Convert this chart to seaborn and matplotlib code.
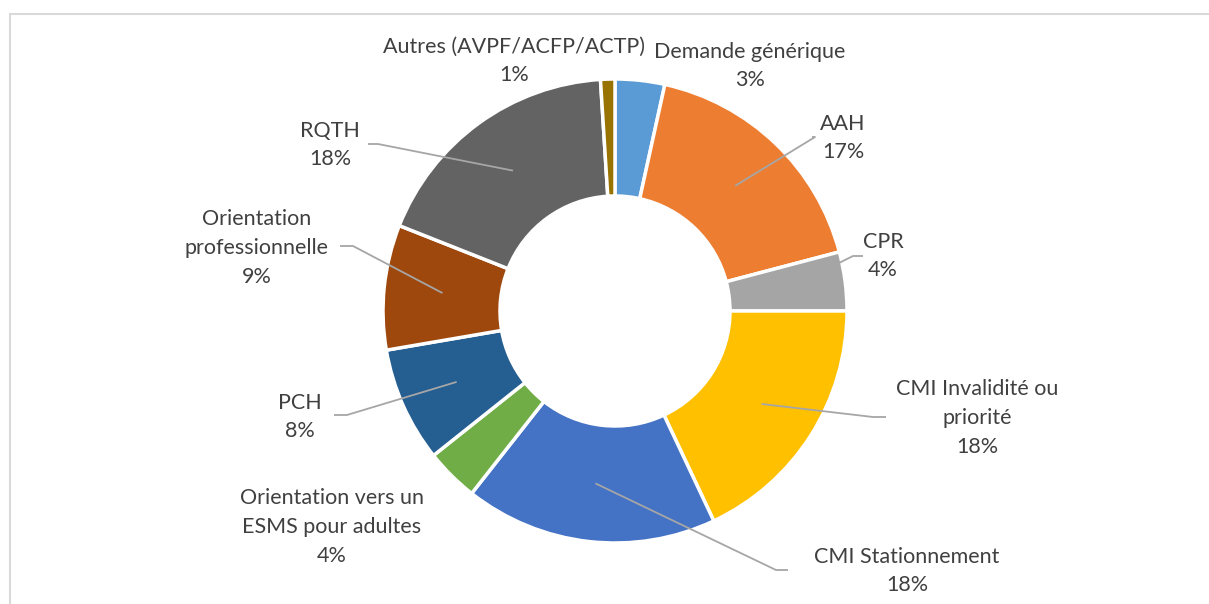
import numpy as np
import seaborn as sns
import matplotlib.pyplot as plt
from matplotlib.patches import Rectangle

categories = ["Demande générique", "AAH", "CPR", "CMI Invalidité ou\npriorité",
              "CMI Stationnement", "Orientation vers un\nESMS pour adultes", "PCH",
              "Orientation\nprofessionnelle", "RQTH", "Autres (AVPF/ACFP/ACTP)"]
shares = [3.45, 17.45, 4.1, 18.0, 17.6, 3.7, 8.0, 8.7, 18.0, 1.0]
colors = ["#5B9BD5", "#ED7D31", "#A5A5A5", "#FFC000", "#4472C4",
          "#70AD47", "#255E91", "#9E480E", "#636363", "#997300"]

# label centres (pixels, from top-left) and end of leader line
label_pos = [(750, 66), (843, 138), (883, 256), (977, 418), (907, 571),
             (332, 527), (300, 417), (257, 248), (330, 145), (514, 61)]
leader_end = [None, (812, 137), (863, 256), (886, 417), (788, 570),
              None, (334, 415), (340, 246), (368, 144), None]
leader_knee = [None, (815, 137), (853, 256), (873, 417), (776, 570),
               None, (347, 415), (353, 246), (378, 144), None]

W, H = 1209, 604
sns.set_theme(style="white")
plt.rcParams['font.family'] = ['Lato', 'DejaVu Sans']

fig = plt.figure(figsize=(W / 100, H / 100), dpi=100)
ax = fig.add_axes([0, 0, 1, 1])

cx, cy = 615, H - 311
r_out, r_in = 232, 115
ax.pie(shares, colors=sns.color_palette(colors), startangle=90, counterclock=False,
       center=(cx, cy), radius=r_out, frame=True,
       wedgeprops=dict(width=r_out - r_in, edgecolor="white", linewidth=2.5))
ax.set_xlim(0, W)
ax.set_ylim(0, H)
ax.set_aspect('equal')
ax.axis('off')

total = sum(shares)
cum = np.cumsum([0] + shares)
r_mid = (r_out + r_in) / 2
for i, cat in enumerate(categories):
    pct = round(shares[i] / total * 100)
    lx, ly = label_pos[i]
    ax.text(lx, H - ly, f"{cat}\n{pct}%", ha="center", va="center",
            fontsize=15.5, color="#404040", linespacing=1.55)
    if leader_end[i] is not None:
        mid = (cum[i] + cum[i + 1]) / 2 / total * 2 * np.pi
        sx = cx + r_mid * np.sin(mid)
        sy = cy + r_mid * np.cos(mid)
        kx, ky = leader_knee[i]
        ex, ey = leader_end[i]
        ax.plot([sx, kx, ex], [sy, H - ky, H - ey], color="#A6A6A6", lw=1.3,
                solid_capstyle="butt")

fig.patches.append(Rectangle((10 / W, -0.1), 1.2, 1.1 - 14 / H, transform=fig.transFigure,
                             fill=False, edgecolor="#D9D9D9", lw=1.5))
fig.savefig("out.png", dpi=100)
